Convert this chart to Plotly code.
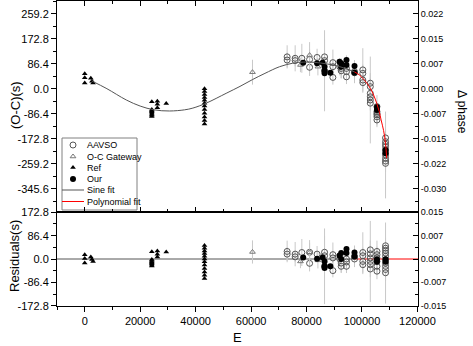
import plotly.graph_objects as go

# ---- data ----
# Ref (filled triangles)
ref_E = [0, 0, 0, 2200, 2600, 3000,
         24200, 24200, 24200, 24200, 24200, 24200, 24200, 24200,
         26200, 26200, 26200, 29400,
         43200, 43200, 43200, 43200, 43200, 43200, 43200, 43200, 43200, 43200, 43200, 43200]
ref_oc = [52, 38, 20, 36, 26, 20,
          -45, -72, -76, -80, -84, -88, -92, -96,
          -43, -54, -66, -51,
          0, -10, -20, -30, -40, -50, -60, -72, -85, -98, -110, -122]
ref_res = [16, 2, -15, 7, -2, -9,
           27, -2, -6, -10, -14, -18, -22, -26,
           30, 18, 7, 26,
           50, 40, 30, 20, 10, 0, -10, -22, -35, -48, -60, -72]

# O-C Gateway (open triangles)
gw_E = [60500, 77800, 81100, 84100]
gw_oc = [57, 82, 116, 76]
gw_res = [26, -9, 25, -5]
gw_err = [43, 25, 45, 30]

# AAVSO (open circles)
aavso_E = [73000, 73000, 75900, 75900, 78300, 81100, 81100, 83800, 86500, 86500,
           86500, 89500, 89500, 89500, 92000, 92500, 92500, 94400, 94400, 94400,
           97300, 97300, 100300, 100300, 100300, 100300, 103000, 103000, 103000, 103000,
           103000, 103000, 105400, 105400, 105400, 105400, 105400, 105400, 108500, 108500,
           108500, 108500, 108500, 108500, 108500, 108500, 108500, 108500]
aavso_oc = [110, 99, 105, 97, 105, 101, 74, 108, 110, 97,
            62, 90, 76, 39, 76, 70, 62, 70, 59, 41,
            59, 55, 65, 53, 30, 21, 19, 7, -16, -39,
            -50, -28, -62, -79, -97, -108, -90, -85, -170, -183,
            -192, -200, -212, -221, -229, -241, -250, -258]
aavso_res = [28, 18, 18, 8, 24, 25, -16, 18, 25, 12,
             -27, 16, 4, -43, 0, -15, -27, 0, -11, -27,
             10, 0, 24, 12, -9, -21, 34, 19, 4, -9,
             -21, -37, 28, 16, 4, -9, -27, -45, 49, 40,
             32, 22, 10, -3, -15, -27, -39, -51]
aavso_err = [40, 25, 45, 20, 50, 35, 30, 30, 60, 25,
             140, 45, 20, 25, 30, 35, 25, 45, 30, 25,
             40, 20, 75, 30, 25, 35, 35, 30, 40, 150,
             25, 30, 40, 30, 30, 25, 30, 30, 30, 30,
             25, 30, 35, 30, 150, 30, 30, 30]

# Our (filled circles)
our_E = [78800, 83800, 85800, 86500, 86500, 86500, 88600, 91900, 92500, 92500,
         94400, 94400, 97300, 97300, 105400, 105400, 108500, 108500]
our_oc = [90, 88, 90, 76, 62, 53, 55, 93, 88, 76, 99, 82, 78, 55, -63, -74, -212, -223]
our_res = [6, 1, 6, -9, -27, -33, -27, 13, 22, 0, 37, 22, 24, 9, -1, -10, -1, -10]

# fitted curves
sine_E = [2500, 8000, 15000, 20000, 25000, 30600, 36000, 39000, 43800, 51000, 56000,
          60600, 65000, 70300, 75000, 79000, 83000, 87000, 90000, 94000, 97300]
sine_oc = [27, 0, -39, -60, -73, -77, -73, -67, -50, -16, 8,
           32, 53, 76, 88, 92, 91, 86, 81, 70, 58]
poly_E = [97300, 99000, 100300, 101700, 103000, 104200, 105300, 106200, 106900, 107800, 108500, 108900]
poly_oc = [58, 48, 36, 20, 1, -22, -50, -78, -108, -145, -190, -240]
fit_switch_E = 97300

# tick labels
oc_ticks = [-345.6, -259.2, -172.8, -86.4, 0, 86.4, 172.8, 259.2]
oc_ticktext = ['-345.6', '-259.2', '-172.8', '-86.4', '0.0', '86.4', '172.8', '259.2']
oc_phase_text = ['-0.030', '-0.022', '-0.015', '-0.007', '0.000', '0.007', '0.015', '0.022']
res_ticks = [-172.8, -86.4, 0, 86.4, 172.8]
res_ticktext = ['-172.8', '-86.4', '0.0', '86.4', '172.8']
res_phase_text = ['-0.015', '-0.007', '0.000', '0.007', '0.015']

legend_names = ['AAVSO', 'O-C Gateway', 'Ref', 'Our', 'Sine fit', 'Polynomial fit']

x_range = [-10000, 120200]
oc_range = [-426, 303]
res_range = [-174, 174]

W, H = 473, 346
ML, MR, MT, MB = 57, 55, 1, 40
PW, PH = W - ML - MR, H - MT - MB
SPLIT_PX = 212  # pixel row where the two panels meet

FONT = 'Liberation Sans, Arial, sans-serif'
ERRC = '#c8c8c8'
GRAY = '#555555'
RED = '#ff0000'

AAVSO_M = dict(symbol='circle-open', size=6, color=GRAY, line=dict(width=1))
GW_M = dict(symbol='triangle-up-open', size=5, color='#777777', line=dict(width=1))
REF_M = dict(symbol='triangle-up', size=5, color='black')
OUR_M = dict(symbol='circle', size=6, color='black')


def fx(px):
    return (px - ML) / PW


def fy(py):
    return (H - MB - py) / PH


# pixel -> data position in the top panel (used only for the legend glyphs)
def top_x(px):
    return x_range[0] + fx(px) * (x_range[1] - x_range[0])


def top_y(py):
    return oc_range[1] - (py - MT) / (SPLIT_PX - MT) * (oc_range[1] - oc_range[0])


fig = go.Figure()

# ---- top panel ----
fig.add_trace(go.Scatter(x=aavso_E, y=aavso_oc, mode='markers', marker=AAVSO_M,
                         error_y=dict(type='data', array=aavso_err, color=ERRC, thickness=1, width=0),
                         xaxis='x', yaxis='y'))
fig.add_trace(go.Scatter(x=gw_E, y=gw_oc, mode='markers', marker=GW_M,
                         error_y=dict(type='data', array=gw_err, color=ERRC, thickness=1, width=0),
                         xaxis='x', yaxis='y'))
fig.add_trace(go.Scatter(x=ref_E, y=ref_oc, mode='markers', marker=REF_M, xaxis='x', yaxis='y'))
fig.add_trace(go.Scatter(x=our_E, y=our_oc, mode='markers', marker=OUR_M, xaxis='x', yaxis='y'))
fig.add_trace(go.Scatter(x=sine_E, y=sine_oc, mode='lines',
                         line=dict(color=GRAY, width=1, shape='spline'), xaxis='x', yaxis='y'))
fig.add_trace(go.Scatter(x=poly_E, y=poly_oc, mode='lines',
                         line=dict(color=RED, width=1, shape='spline'), xaxis='x', yaxis='y'))

# ---- bottom panel (residuals) ----
fig.add_shape(type='line', xref='x2', yref='y2', x0=x_range[0], x1=fit_switch_E, y0=0, y1=0,
              line=dict(color=GRAY, width=1), layer='below')
fig.add_shape(type='line', xref='x2', yref='y2', x0=fit_switch_E, x1=x_range[1], y0=0, y1=0,
              line=dict(color=RED, width=1), layer='below')
fig.add_trace(go.Scatter(x=aavso_E, y=aavso_res, mode='markers', marker=AAVSO_M,
                         error_y=dict(type='data', array=aavso_err, color=ERRC, thickness=1, width=0),
                         xaxis='x2', yaxis='y2'))
fig.add_trace(go.Scatter(x=gw_E, y=gw_res, mode='markers', marker=GW_M,
                         error_y=dict(type='data', array=gw_err, color=ERRC, thickness=1, width=0),
                         xaxis='x2', yaxis='y2'))
fig.add_trace(go.Scatter(x=ref_E, y=ref_res, mode='markers', marker=REF_M, xaxis='x2', yaxis='y2'))
fig.add_trace(go.Scatter(x=our_E, y=our_res, mode='markers', marker=OUR_M, xaxis='x2', yaxis='y2'))

# invisible copies so the right-hand phase axes get drawn
fig.add_trace(go.Scatter(x=sine_E, y=sine_oc, mode='lines', opacity=0, hoverinfo='skip',
                         line=dict(width=0), xaxis='x', yaxis='y3'))
fig.add_trace(go.Scatter(x=our_E, y=our_res, mode='lines', opacity=0, hoverinfo='skip',
                         line=dict(width=0), xaxis='x2', yaxis='y4'))

# ---- hand-made compact legend ----
leg_box = (62, 138, 137, 210)
leg_rows = [145, 156.5, 167.5, 179, 190, 201.5]
fig.add_shape(type='rect', xref='paper', yref='paper',
              x0=fx(leg_box[0]), x1=fx(leg_box[2]), y0=fy(leg_box[3]), y1=fy(leg_box[1]),
              line=dict(color='#808080', width=1), fillcolor='white', layer='below')
for i, m in enumerate([AAVSO_M, GW_M, REF_M, OUR_M]):
    fig.add_trace(go.Scatter(x=[top_x(73)], y=[top_y(leg_rows[i])], mode='markers', marker=m,
                             hoverinfo='skip', xaxis='x', yaxis='y'))
# legend line samples drawn as traces in the top panel
for i, c in [(4, GRAY), (5, RED)]:
    fig.add_trace(go.Scatter(x=[top_x(62), top_x(84)], y=[top_y(leg_rows[i])] * 2, mode='lines',
                             line=dict(color=c, width=1), hoverinfo='skip', xaxis='x', yaxis='y'))
for i, name in enumerate(legend_names):
    fig.add_annotation(text=name, xref='paper', yref='paper', x=fx(85), y=fy(leg_rows[i]),
                       xanchor='left', yanchor='middle', showarrow=False,
                       font=dict(family=FONT, size=9, color='black'))

split = fy(SPLIT_PX)
tickfont = dict(family=FONT, size=11, color='black')
phasefont = dict(family=FONT, size=9, color='black')

xcommon = dict(range=x_range, showgrid=False, zeroline=False, showline=True, linecolor='black',
               linewidth=1, dtick=20000, tick0=0, ticklen=5, tickcolor='black', automargin=False,
               tickformat='d')
ycommon = dict(showgrid=False, zeroline=False, showline=True, linecolor='black', linewidth=1,
               ticklen=5, tickcolor='black', automargin=False)

fig.update_layout(
    width=W, height=H, autosize=False,
    margin=dict(l=ML, r=MR, t=MT, b=MB),
    paper_bgcolor='white', plot_bgcolor='white',
    font=dict(family=FONT, color='black'),
    showlegend=False,
    xaxis=dict(xcommon, domain=[0, 1], anchor='y', ticks='inside', mirror='ticks',
               showticklabels=False, minor=dict(dtick=10000, ticklen=3, ticks='inside', tickcolor='black')),
    xaxis2=dict(xcommon, domain=[0, 1], anchor='y2', ticks='outside', mirror=True,
                tickfont=tickfont, minor=dict(dtick=10000, ticklen=3, ticks='outside', tickcolor='black')),
    yaxis=dict(ycommon, domain=[split, 1], anchor='x', range=oc_range, ticks='outside',
               tickvals=oc_ticks, ticktext=oc_ticktext, tickfont=tickfont,
               minor=dict(dtick=43.2, tick0=0, ticks='outside', ticklen=3, tickcolor='black')),
    yaxis2=dict(ycommon, domain=[0, split], anchor='x2', range=res_range, ticks='outside',
                tickvals=res_ticks, ticktext=res_ticktext, tickfont=tickfont,
                minor=dict(dtick=43.2, tick0=0, ticks='outside', ticklen=3, tickcolor='black')),
    yaxis3=dict(ycommon, overlaying='y', side='right', anchor='x', range=oc_range, ticks='inside',
                tickvals=oc_ticks, ticktext=oc_phase_text, tickfont=phasefont,
                minor=dict(dtick=43.2, tick0=0, ticks='inside', ticklen=3, tickcolor='black')),
    yaxis4=dict(ycommon, overlaying='y2', side='right', anchor='x2', range=res_range, ticks='inside',
                tickvals=res_ticks, ticktext=res_phase_text, tickfont=phasefont,
                minor=dict(dtick=43.2, tick0=0, ticks='inside', ticklen=3, tickcolor='black')),
)

# axis titles
title_font = dict(family=FONT, size=13, color='black')
fig.add_annotation(text='(O-C)(s)', xref='paper', yref='paper', x=fx(15), y=fy(105),
                   xanchor='center', yanchor='middle', textangle=-90, showarrow=False, font=title_font)
fig.add_annotation(text='Residuals(s)', xref='paper', yref='paper', x=fx(14), y=fy(256),
                   xanchor='center', yanchor='middle', textangle=-90, showarrow=False, font=title_font)
fig.add_annotation(text='E', xref='paper', yref='paper', x=fx(237), y=fy(337),
                   xanchor='center', yanchor='middle', showarrow=False, font=title_font)
fig.add_annotation(text='Δ phase', xref='paper', yref='paper', x=fx(462), y=fy(112),
                   xanchor='center', yanchor='middle', textangle=90, showarrow=False,
                   font=dict(family=FONT, size=12, color='black'))

# the page's default body margin would shift the chart; remove it
fig.write_html('out.html', config={'displayModeBar': False},
               post_script="document.body.style.margin='0px';")
